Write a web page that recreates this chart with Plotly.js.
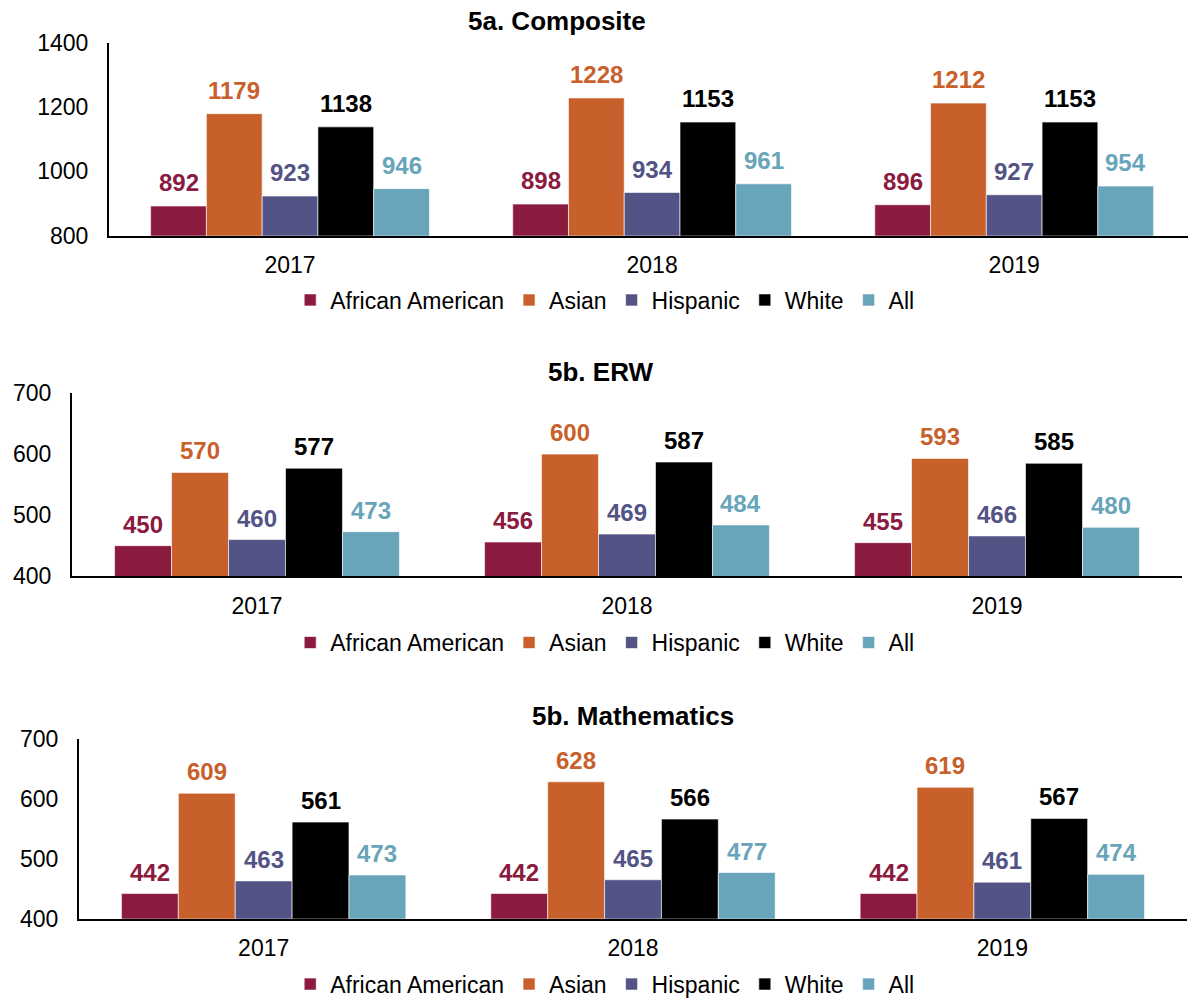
<!DOCTYPE html>
<html><head><meta charset="utf-8">
<script src="https://cdn.plot.ly/plotly-3.0.1.min.js"></script>
<style>html,body{margin:0;padding:0;background:#fff}#chart{width:1188px;height:1006px}</style>
</head><body><div id="chart"></div><script>
const years = ['2017', '2018', '2019'];
const groupNames = ['African American', 'Asian', 'Hispanic', 'White', 'All'];
const groupColors = ['#8B1A3F', '#C8602C', '#535385', '#000000', '#68A4BA'];
const panelTitles = ['5a. Composite', '5b. ERW', '5b. Mathematics'];

const compositeAfricanAmerican = [892, 898, 896];
const compositeAsian = [1179, 1228, 1212];
const compositeHispanic = [923, 934, 927];
const compositeWhite = [1138, 1153, 1153];
const compositeAll = [946, 961, 954];

const erwAfricanAmerican = [450, 456, 455];
const erwAsian = [570, 600, 593];
const erwHispanic = [460, 469, 466];
const erwWhite = [577, 587, 585];
const erwAll = [473, 484, 480];

const mathAfricanAmerican = [442, 442, 442];
const mathAsian = [609, 628, 619];
const mathHispanic = [463, 465, 461];
const mathWhite = [561, 566, 567];
const mathAll = [473, 477, 474];

const panelSeries = [
  [compositeAfricanAmerican, compositeAsian, compositeHispanic, compositeWhite, compositeAll],
  [erwAfricanAmerican, erwAsian, erwHispanic, erwWhite, erwAll],
  [mathAfricanAmerican, mathAsian, mathHispanic, mathWhite, mathAll]
];

const FONT = 'Liberation Sans, Arial, Helvetica, sans-serif';
const W = 1188, H = 1006;
const px = v => v / W;
const py = v => 1 - v / H;
const BARGAP = 0.23;
const barUnit = (1 - BARGAP) / groupNames.length;

// layout geometry (pixels)
const geo = [
  {x0: 109, x1: 1188, xr: [-0.5, 2.48], yTop: 43, yBot: 238, yr: [800, 1400], dt: 200, titleX: 557, titleY: 21, legY: 303, lblShift: 8},
  {x0: 72, x1: 1182, xr: [-0.5, 2.5], yTop: 397, yBot: 582, yr: [400, 700], dt: 100, titleX: 600, titleY: 376, legY: 649, lblShift: 6},
  {x0: 79, x1: 1187, xr: [-0.5, 2.5], yTop: 746, yBot: 928, yr: [400, 700], dt: 100, titleX: 633, titleY: 723, legY: 994, lblShift: 6}
];

const data = [];
const annotations = [];
panelSeries.forEach((series, p) => {
  const sfx = p === 0 ? '' : String(p + 1);
  series.forEach((vals, i) => {
    data.push({
      type: 'bar',
      name: groupNames[i],
      x: years,
      y: vals,
      xaxis: 'x' + sfx,
      yaxis: 'y' + sfx,
      legend: 'legend' + sfx,
      marker: {color: groupColors[i], line: {width: 1, color: 'rgba(255,255,255,0.6)'}},
      hoverinfo: 'x+y+name'
    });
    vals.forEach((v, k) => {
      annotations.push({
        xref: 'x' + sfx, yref: 'y' + sfx,
        x: k + (i - (groupNames.length - 1) / 2) * barUnit,
        y: v,
        text: '<b>' + v + '</b>',
        showarrow: false,
        xanchor: 'center', yanchor: 'bottom',
        yshift: geo[p].lblShift,
        font: {family: FONT, size: 24, color: groupColors[i]}
      });
    });
  });
});

const layout = {
  width: W, height: H,
  margin: {l: 0, r: 0, t: 0, b: 0},
  paper_bgcolor: '#fff', plot_bgcolor: '#fff',
  font: {family: FONT, size: 23, color: '#000'},
  barmode: 'group',
  bargap: BARGAP,
  bargroupgap: 0,
  annotations: annotations,
  showlegend: true
};

geo.forEach((g, p) => {
  const sfx = p === 0 ? '' : String(p + 1);
  layout['xaxis' + sfx] = {
    domain: [px(g.x0), Math.min(1, px(g.x1))],
    anchor: 'y' + sfx,
    type: 'category',
    range: g.xr,
    showline: true, linewidth: 2, linecolor: '#000',
    ticks: 'outside', ticklen: 8, tickcolor: 'rgba(0,0,0,0)',
    showgrid: false, zeroline: false,
    tickfont: {family: FONT, size: 23, color: '#000'},
    fixedrange: true
  };
  layout['yaxis' + sfx] = {
    domain: [py(g.yBot), py(g.yTop)],
    anchor: 'x' + sfx,
    range: g.yr,
    dtick: g.dt,
    tick0: g.yr[0],
    showline: true, linewidth: 2, linecolor: '#000',
    ticks: 'outside', ticklen: 14, tickcolor: 'rgba(0,0,0,0)',
    showgrid: false, zeroline: false,
    tickfont: {family: FONT, size: 23, color: '#000'},
    fixedrange: true
  };
  layout['legend' + sfx] = {
    orientation: 'h',
    x: 0.509, xanchor: 'center',
    y: py(g.legY), yanchor: 'middle',
    font: {family: FONT, size: 23, color: '#000'},
    bgcolor: 'rgba(0,0,0,0)',
    traceorder: 'normal'
  };
  annotations.push({
    text: '<b>' + panelTitles[p] + '</b>',
    xref: 'paper', yref: 'paper',
    x: px(g.titleX), y: py(g.titleY),
    xanchor: 'center', yanchor: 'middle',
    showarrow: false,
    font: {family: FONT, size: 26, color: '#000'}
  });
});

Plotly.newPlot('chart', data, layout, {displayModeBar: false, staticPlot: true});
</script></body></html>
